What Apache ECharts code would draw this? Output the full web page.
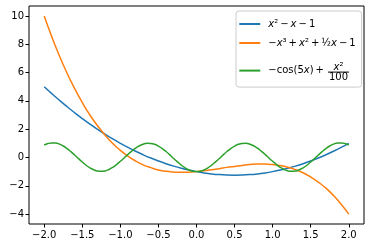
<!DOCTYPE html>
<html><head><meta charset="utf-8">
<script src="https://cdn.jsdelivr.net/npm/echarts@6/dist/echarts.min.js"></script>
<style>html,body{margin:0;padding:0;background:#fff}#c{width:370px;height:248px}</style>
</head><body><div id="c"></div>
<script>
// x samples for the blue and orange curves
const xsCoarse = [-2.0,-1.9,-1.8,-1.7,-1.6,-1.5,-1.4,-1.3,-1.2,-1.1,-1.0,-0.9,-0.8,-0.7,-0.6,-0.5,-0.4,-0.3,-0.2,-0.1,
  0.0,0.1,0.2,0.3,0.4,0.5,0.6,0.7,0.8,0.9,1.0,1.1,1.2,1.3,1.4,1.5,1.6,1.7,1.8,1.9,2.0];
// blue: x^2 - x - 1
const blueY = [5.00,4.51,4.04,3.59,3.16,2.75,2.36,1.99,1.64,1.31,1.00,0.71,0.44,0.19,-0.04,-0.25,-0.44,-0.61,-0.76,-0.89,
  -1.00,-1.09,-1.16,-1.21,-1.24,-1.25,-1.24,-1.21,-1.16,-1.09,-1.00,-0.89,-0.76,-0.61,-0.44,-0.25,-0.04,0.19,0.44,0.71,1.00];
// orange: -x^3 + x^2 + x/2 - 1
const orangeY = [10.00,8.52,7.17,5.95,4.86,3.88,3.00,2.24,1.57,0.99,0.50,0.09,-0.25,-0.52,-0.72,-0.88,-0.98,-1.03,-1.05,-1.04,
  -1.00,-0.94,-0.87,-0.79,-0.70,-0.63,-0.56,-0.50,-0.47,-0.47,-0.50,-0.57,-0.69,-0.86,-1.08,-1.38,-1.74,-2.17,-2.69,-3.30,-4.00];
// x samples for the green curve
const xsFine = [-2.00,-1.95,-1.90,-1.85,-1.80,-1.75,-1.70,-1.65,-1.60,-1.55,-1.50,-1.45,-1.40,-1.35,-1.30,-1.25,-1.20,-1.15,-1.10,-1.05,
  -1.00,-0.95,-0.90,-0.85,-0.80,-0.75,-0.70,-0.65,-0.60,-0.55,-0.50,-0.45,-0.40,-0.35,-0.30,-0.25,-0.20,-0.15,-0.10,-0.05,
  0.00,0.05,0.10,0.15,0.20,0.25,0.30,0.35,0.40,0.45,0.50,0.55,0.60,0.65,0.70,0.75,0.80,0.85,0.90,0.95,
  1.00,1.05,1.10,1.15,1.20,1.25,1.30,1.35,1.40,1.45,1.50,1.55,1.60,1.65,1.70,1.75,1.80,1.85,1.90,1.95,2.00];
// green: -cos(5x) + x^2/100
const greenY = [0.88,0.99,1.03,1.02,0.94,0.81,0.63,0.41,0.17,-0.08,-0.32,-0.55,-0.73,-0.87,-0.96,-0.98,-0.95,-0.85,-0.70,-0.50,
  -0.27,-0.03,0.22,0.45,0.66,0.83,0.94,1.00,0.99,0.93,0.80,0.63,0.42,0.18,-0.07,-0.31,-0.54,-0.73,-0.88,-0.97,
  -1.00,-0.97,-0.88,-0.73,-0.54,-0.31,-0.07,0.18,0.42,0.63,0.80,0.93,0.99,1.00,0.94,0.83,0.66,0.45,0.22,-0.03,
  -0.27,-0.50,-0.70,-0.85,-0.95,-0.98,-0.96,-0.87,-0.73,-0.55,-0.32,-0.08,0.17,0.41,0.63,0.81,0.94,1.02,1.03,0.99,0.88];
const xTicks = [-2.0,-1.5,-1.0,-0.5,0.0,0.5,1.0,1.5,2.0];
const yTicks = [-4,-2,0,2,4,6,8,10];
const seriesNames = ['s1','s2','s3'];
const colors = ['#1f77b4','#ff7f0e','#2ca02c'];

const FF = '"DejaVu Sans"';
const TS = '\u2009'; // thin space
const cv = document.createElement('canvas').getContext('2d');
function tw(s, italic, size){ cv.font = (italic?'italic ':'') + (size||10) + 'px ' + FF; return cv.measureText(s).width; }
const mainW = tw('\u2212cos(5') + tw('x', true) + tw(')' + TS + '+' + TS + TS);
const barW = 21;
const numW = tw('x', true) + tw('\u00b2');
const denW = tw('100');

const labels = {
  s1: '{i|x}{t|\u00b2' + TS + '\u2212' + TS + '}{i|x}{t|' + TS + '\u2212' + TS + '1}',
  s2: '{t|\u2212}{i|x}{t|\u00b3' + TS + '+' + TS + '}{i|x}{t|\u00b2' + TS + '+' + TS + '\u00bd}{i|x}{t|' + TS + '\u2212' + TS + '1}',
  s3: '{e| }\n{s1|}{ni|x}{nt|\u00b2}\n{m|\u2212cos(5}{mi|x}{m|)' + TS + '+' + TS + TS + '}{bar|}\n{s3|}{dn|100}'
};

const fmtNum = (v, d) => (v < 0 ? '\u2212' : '') + Math.abs(v).toFixed(d);
const pairs = (xs, ys) => xs.map((x, i) => [x, ys[i]]);

const chart = echarts.init(document.getElementById('c'), null, {renderer: 'canvas'});
chart.setOption({
  animation: false,
  grid: {left: 29, right: 6, top: 6, bottom: 24, show: true, borderColor: '#000', borderWidth: 1},
  xAxis: {
    type: 'value', min: -2.2, max: 2.2,
    axisLine: {show: false, onZero: false},
    splitLine: {show: false},
    axisTick: {show: true, length: 3.5, lineStyle: {color: '#000', width: 1}, customValues: xTicks},
    axisLabel: {color: '#000', fontSize: 10, fontFamily: FF, margin: 6, customValues: xTicks,
      formatter: v => fmtNum(v, 1)}
  },
  yAxis: {
    type: 'value', min: -4.7, max: 10.7,
    axisLine: {show: false, onZero: false},
    splitLine: {show: false},
    axisTick: {show: true, length: 3.5, lineStyle: {color: '#000', width: 1}, customValues: yTicks},
    axisLabel: {color: '#000', fontSize: 10, fontFamily: FF, margin: 5, customValues: yTicks,
      formatter: v => fmtNum(v, 0)}
  },
  legend: {
    orient: 'vertical', left: 236, top: 11,
    padding: [8, 6, 4.5, 3.3],
    itemGap: 9, itemWidth: 21, itemHeight: 2, icon: 'rect',
    backgroundColor: 'rgba(255,255,255,0.8)', borderColor: '#cccccc', borderWidth: 1, borderRadius: 3,
    data: seriesNames,
    formatter: n => labels[n],
    textStyle: {
      padding: [0, 0, 0, 3], color: '#000', fontFamily: FF, fontSize: 10,
      rich: {
        t: {fontFamily: FF, fontSize: 10, color: '#000', lineHeight: 7.2},
        i: {fontFamily: FF, fontStyle: 'italic', fontSize: 10, color: '#000', lineHeight: 7.2},
        e: {fontFamily: FF, fontSize: 10, color: 'rgba(0,0,0,0)', lineHeight: 6.8},
        s1: {width: mainW + (barW - numW) / 2, lineHeight: 3.2, height: 1},
        ni: {fontFamily: FF, fontStyle: 'italic', fontSize: 10, color: '#000', lineHeight: 3.2},
        nt: {fontFamily: FF, fontSize: 10, color: '#000', lineHeight: 3.2},
        m: {fontFamily: FF, fontSize: 10, color: '#000', lineHeight: 4},
        mi: {fontFamily: FF, fontStyle: 'italic', fontSize: 10, color: '#000', lineHeight: 4},
        bar: {width: barW, height: 1, lineHeight: 4, backgroundColor: '#000', verticalAlign: 'bottom'},
        s3: {width: mainW + (barW - denW) / 2, lineHeight: 10, height: 1},
        dn: {fontFamily: FF, fontSize: 10, color: '#000', lineHeight: 10}
      }
    }
  },
  series: [
    {name: 's1', data: pairs(xsCoarse, blueY)},
    {name: 's2', data: pairs(xsCoarse, orangeY)},
    {name: 's3', data: pairs(xsFine, greenY)}
  ].map((s, k) => ({
    name: s.name, type: 'line', smooth: true, showSymbol: false, symbol: 'none',
    color: colors[k], lineStyle: {color: colors[k], width: 1.5},
    data: s.data
  }))
});
</script>
</body></html>
